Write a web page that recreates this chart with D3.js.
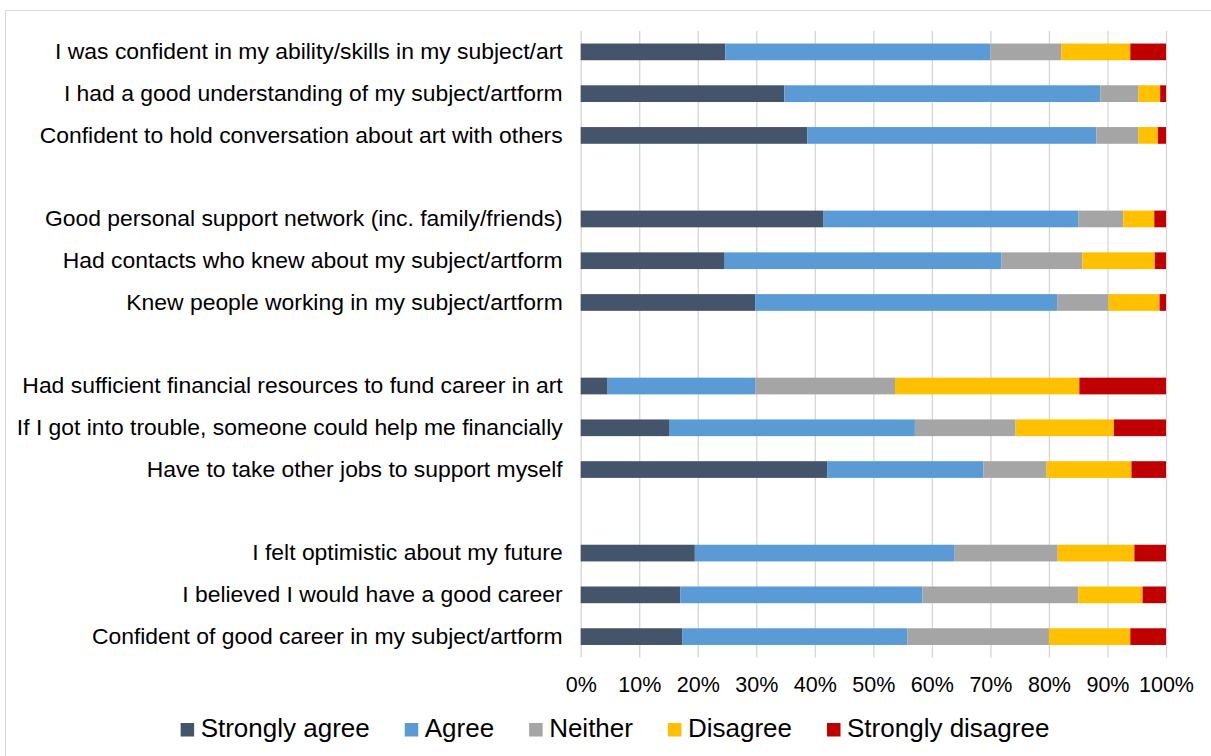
<!DOCTYPE html>
<html>
<head>
<meta charset="utf-8">
<script src="https://cdn.jsdelivr.net/npm/d3@7"></script>
<style>
  html, body { margin: 0; padding: 0; background: #fff; }
  svg { display: block; font-family: "Liberation Sans", Arial, sans-serif; }
</style>
</head>
<body>
<svg id="chart" width="1211" height="756"></svg>
<script>
// Survey statements, drawn top to bottom; groups of three separated by a blank row
const categories = [
  "I was confident in my ability/skills in my subject/art",
  "I had a good understanding of my subject/artform",
  "Confident to hold conversation about art with others",
  "Good personal support network (inc. family/friends)",
  "Had contacts who knew about my subject/artform",
  "Knew people working in my subject/artform",
  "Had sufficient financial resources to fund career in art",
  "If I got into trouble, someone could help me financially",
  "Have to take other jobs to support myself",
  "I felt optimistic about my future",
  "I believed I would have a good career",
  "Confident of good career in my subject/artform"
];
const groupSizes = [3, 3, 3, 3];

// Response shares (%) per statement
const stronglyAgree    = [24.7, 34.8, 38.7, 41.5, 24.6, 29.8,  4.6, 15.2, 42.1, 19.5, 17.0, 17.4];
const agree            = [45.3, 54.0, 49.4, 43.5, 47.3, 51.6, 25.3, 41.9, 26.7, 44.4, 41.4, 38.4];
const neither          = [12.1,  6.5,  7.2,  7.7, 13.8,  8.8, 23.8, 17.2, 10.8, 17.6, 26.6, 24.2];
const disagree         = [11.8,  3.7,  3.3,  5.3, 12.4,  8.7, 31.5, 16.8, 14.5, 13.1, 11.0, 13.9];
const stronglyDisagree = [ 6.1,  1.0,  1.4,  2.0,  1.9,  1.1, 14.8,  8.9,  5.9,  5.4,  4.0,  6.1];

const seriesNames  = ["Strongly agree", "Agree", "Neither", "Disagree", "Strongly disagree"];
const seriesColors = ["#44546a", "#5b9bd5", "#a5a5a5", "#ffc000", "#c00000"];
const xTicks = [0, 10, 20, 30, 40, 50, 60, 70, 80, 90, 100];

// Build row slots (statement rows plus blank spacer rows between groups)
const slots = [];
let ci = 0;
groupSizes.forEach((n, g) => {
  if (g > 0) slots.push({ key: "gap" + g, label: "" });
  for (let i = 0; i < n; i++, ci++) slots.push({ key: "r" + ci, label: categories[ci], idx: ci });
});

const table = categories.map((c, i) => ({
  key: "r" + i,
  "Strongly agree": stronglyAgree[i],
  "Agree": agree[i],
  "Neither": neither[i],
  "Disagree": disagree[i],
  "Strongly disagree": stronglyDisagree[i]
}));

const svg = d3.select("#chart");

// Outer chart frame
svg.append("rect")
  .attr("x", 5.5).attr("y", 10.5)
  .attr("width", 1230).attr("height", 770)
  .attr("fill", "#fff").attr("stroke", "#d9d9d9").attr("stroke-width", 1);

const plot = { left: 580.7, right: 1166, top: 31, bottom: 657.5 };

const x = d3.scaleLinear().domain([0, 100]).range([plot.left, plot.right]);
const y = d3.scaleBand()
  .domain(slots.map(s => s.key))
  .range([plot.top, plot.bottom])
  .paddingInner(0.6)
  .paddingOuter(0.3);

const color = d3.scaleOrdinal().domain(seriesNames).range(seriesColors);

// Vertical gridlines and percentage labels
const xAxis = svg.append("g")
  .attr("transform", `translate(0,${plot.bottom})`)
  .call(d3.axisBottom(x)
    .tickValues(xTicks)
    .tickSize(-(plot.bottom - plot.top))
    .tickPadding(19)
    .tickFormat(d => d + "%"));
xAxis.select(".domain").remove();
xAxis.selectAll(".tick line").attr("stroke", "#d6d6d6").attr("stroke-width", 1.3);
xAxis.selectAll(".tick text")
  .attr("fill", "#000")
  .style("font-size", "21.5px");

// Statement labels
const labelMap = new Map(slots.map(s => [s.key, s.label]));
const yAxis = svg.append("g")
  .attr("transform", `translate(${plot.left},0)`)
  .call(d3.axisLeft(y).tickSize(0).tickPadding(18).tickFormat(k => labelMap.get(k)));
yAxis.select(".domain").remove();
yAxis.selectAll(".tick text")
  .attr("fill", "#000")
  .style("font-size", "22.9px");

// Stacked bars
const stacked = d3.stack().keys(seriesNames)(table);
svg.append("g")
  .selectAll("g")
  .data(stacked)
  .join("g")
  .attr("fill", d => color(d.key))
  .selectAll("rect")
  .data(d => d)
  .join("rect")
  .attr("x", d => x(d[0]))
  .attr("width", d => x(d[1]) - x(d[0]))
  .attr("y", d => y(d.data.key))
  .attr("height", y.bandwidth());

// Legend, centred under the plot
const legend = svg.append("g").attr("class", "legend");
const legendY = 737;
const items = legend.selectAll("g")
  .data(seriesNames)
  .join("g");
items.append("rect")
  .attr("width", 13.5).attr("height", 13.5)
  .attr("y", legendY - 14)
  .attr("fill", d => color(d));
items.append("text")
  .attr("x", 20)
  .attr("y", legendY)
  .attr("fill", "#000")
  .style("font-size", "26px")
  .text(d => d);

let cursor = 0;
const offsets = [];
items.each(function () {
  offsets.push(cursor);
  const w = 20 + d3.select(this).select("text").node().getComputedTextLength();
  cursor += w + 35;
});
const totalW = cursor - 35;
const startX = 615 - totalW / 2;
items.attr("transform", (d, i) => `translate(${startX + offsets[i]},0)`);
</script>
</body>
</html>
